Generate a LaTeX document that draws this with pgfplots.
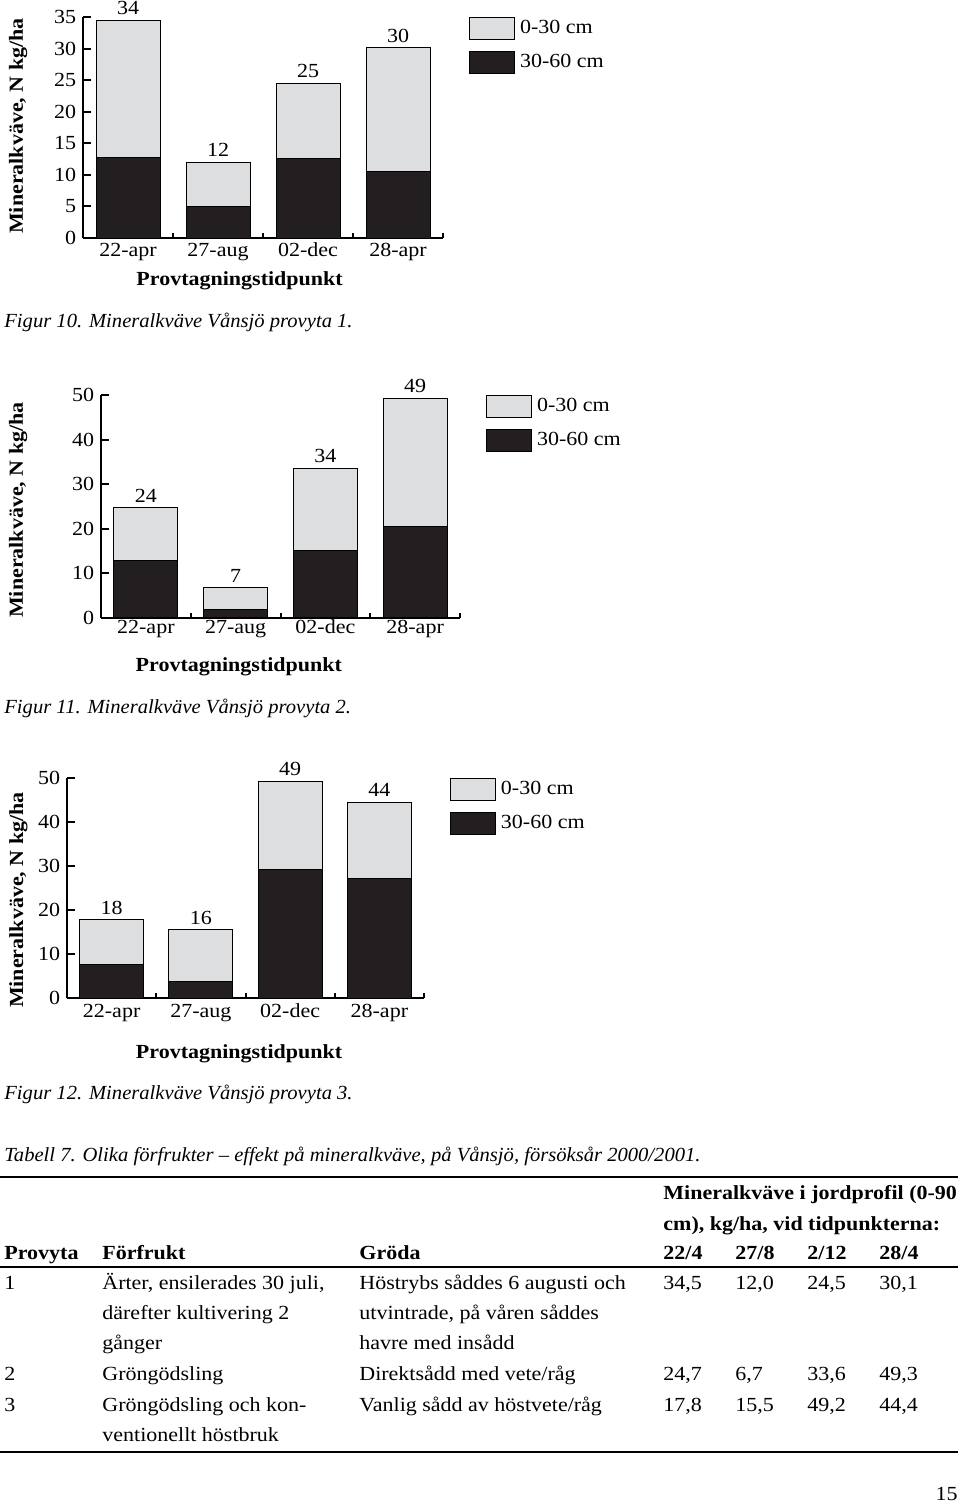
\documentclass[border=0pt]{standalone}
\usepackage{fontspec}
\setmainfont{Liberation Serif}[UprightFeatures={FakeStretch=1.1},BoldFeatures={FakeStretch=1.1},ItalicFeatures={FakeStretch=1.03}]
\usepackage{pgfplots}
\pgfplotsset{compat=1.18}
\usepackage{pgfplotstable}
\definecolor{barlight}{RGB}{221,222,223}
\definecolor{bardark}{RGB}{35,31,32}

\pgfplotstableread{
x low high tot lab
0 12.7 21.8 34.5 34
1 5.0 7.0 12.0 12
2 12.6 11.9 24.5 25
3 10.5 19.6 30.1 30
}\dataA
\pgfplotstableread{
x low high tot lab
0 12.8 11.9 24.7 24
1 1.95 4.75 6.7 7
2 15.0 18.6 33.6 34
3 20.4 28.9 49.3 49
}\dataB
\pgfplotstableread{
x low high tot lab
0 7.7 10.1 17.8 18
1 3.8 11.7 15.5 16
2 29.2 20.0 49.2 49
3 27.2 17.2 44.4 44
}\dataC

\pgfplotsset{
  mybars/.style={
    scale only axis, anchor=south west, clip=false,
    xmin=-0.5, xmax=3.5, ymin=0,
    axis x line*=bottom, axis y line*=left,
    axis line style={line width=1.1pt,-},
    ybar stacked, bar width=32pt,
    xtick={0,1,2,3}, xticklabels={22-apr,27-aug,02-dec,28-apr},
    major tick length=4pt,
    major tick style={draw=none},
    /pgf/number format/assume math mode=true,
    yticklabel style={anchor=east, inner sep=0pt, xshift=-3.25pt},
    xticklabel style={anchor=base, inner sep=0pt},
    reverse legend,
    legend cell align=left,
    legend style={draw=none, fill=none, inner sep=0pt, outer sep=0pt,
      at={(rel axis cs:1,1)}, anchor=north west, xshift=13pt,
      row sep=5.5pt, column sep=2.5pt, nodes={inner sep=0pt, outer sep=0pt}},
    ylabel={Mineralkväve, N kg/ha},
    xlabel={Provtagningstidpunkt},
    every axis label/.append style={font=\bfseries},
    after end axis/.append code={
      \foreach \t in {0.5,1.5,2.5,3.5} {\draw[line width=1pt] (axis cs:\t,0) -- ++(0pt,2.5pt);}
    },
  },
  yticks/.style={ytick={#1},
    after end axis/.append code={
      \foreach \v in {#1} {\draw[line width=1pt] (axis cs:-0.5,\v) -- ++(4pt,0pt);}
    }},
  labaxis/.style={
    scale only axis, anchor=south west, clip=false, hide axis,
    xmin=-0.5, xmax=3.5, ymin=0,
    every node near coord/.append style={anchor=base, inner sep=0pt, yshift=2.75pt, black},
  },
  lowbar/.style={fill=bardark, draw=black, line width=0.5pt,
    legend image code/.code={\draw[##1,/tikz/.cd] (0pt,-5.5pt) rectangle (22.5pt,5.5pt);}},
  highbar/.style={fill=barlight, draw=black, line width=0.5pt,
    legend image code/.code={\draw[##1,/tikz/.cd] (0pt,-5.5pt) rectangle (22.5pt,5.5pt);}},
  labplot/.style={draw=none, mark=none, nodes near coords, point meta=explicit symbolic},
}
\tikzset{tt/.style={anchor=base west, inner sep=0pt}}

\begin{document}
\begin{tikzpicture}
\path[use as bounding box] (0pt,0pt) rectangle (480pt,-754.5pt);

% Figure 10
\begin{axis}[mybars, at={(41.5pt,-119pt)}, width=180pt, height=110.5pt,
  ymax=35, yticks={0,5,...,35},
  ylabel style={at={(rel axis cs:-0.1667,0.507)}, anchor=base},
  xlabel style={at={(rel axis cs:0.435,0)}, anchor=base, yshift=-23.5pt},
  xticklabel style={yshift=-9.25pt}]
\addplot[lowbar] table[x=x,y=low]{\dataA}; \addlegendentry{30-60 cm}
\addplot[highbar] table[x=x,y=high]{\dataA}; \addlegendentry{0-30 cm}
\end{axis}
\begin{axis}[labaxis, at={(41.5pt,-119pt)}, width=180pt, height=110.5pt, ymax=35]
\addplot[labplot] table[x=x,y=tot,meta=lab]{\dataA};
\end{axis}

% Figure 11
\begin{axis}[mybars, at={(50.5pt,-308.85pt)}, width=179.5pt, height=111.35pt,
  ymax=50, yticks={0,10,...,50},
  ylabel style={at={(rel axis cs:-0.2173,0.484)}, anchor=base},
  xlabel style={at={(rel axis cs:0.384,0)}, anchor=base, yshift=-26.65pt},
  xticklabel style={yshift=-8.1pt}]
\addplot[lowbar] table[x=x,y=low]{\dataB}; \addlegendentry{30-60 cm}
\addplot[highbar] table[x=x,y=high]{\dataB}; \addlegendentry{0-30 cm}
\end{axis}
\begin{axis}[labaxis, at={(50.5pt,-308.85pt)}, width=179.5pt, height=111.35pt, ymax=50]
\addplot[labplot] table[x=x,y=tot,meta=lab]{\dataB};
\end{axis}

% Figure 12
\begin{axis}[mybars, at={(33.5pt,-499.15pt)}, width=178.5pt, height=110.35pt,
  ymax=50, yticks={0,10,...,50},
  ylabel style={at={(rel axis cs:-0.1232,0.445)}, anchor=base},
  xlabel style={at={(rel axis cs:0.482,0)}, anchor=base, yshift=-29.85pt},
  xticklabel style={yshift=-9.6pt}]
\addplot[lowbar] table[x=x,y=low]{\dataC}; \addlegendentry{30-60 cm}
\addplot[highbar] table[x=x,y=high]{\dataC}; \addlegendentry{0-30 cm}
\end{axis}
\begin{axis}[labaxis, at={(33.5pt,-499.15pt)}, width=178.5pt, height=110.35pt, ymax=50]
\addplot[labplot] table[x=x,y=tot,meta=lab]{\dataC};
\end{axis}

% captions
\node[tt] at (2pt,-163.5pt) {\itshape Figur 10. Mineralkväve Vånsjö provyta 1.};
\node[tt] at (2pt,-356.5pt) {\itshape Figur 11. Mineralkväve Vånsjö provyta 2.};
\node[tt] at (2pt,-549.5pt) {\itshape Figur 12. Mineralkväve Vånsjö provyta 3.};
\node[tt] at (2pt,-580.5pt) {\itshape Tabell 7. Olika förfrukter -- effekt på mineralkväve, på Vånsjö, försöksår 2000/2001.};

% table rules
\draw[line width=0.7pt] (0pt,-588.5pt) -- (479pt,-588.5pt);
\draw[line width=1.4pt] (0pt,-633.5pt) -- (479pt,-633.5pt);
\draw[line width=1.2pt] (0pt,-726pt) -- (479pt,-726pt);

% header
\node[tt] at (331.5pt,-599.5pt) {\bfseries Mineralkväve i jordprofil (0-90};
\node[tt] at (331.5pt,-615pt) {\bfseries cm), kg/ha, vid tidpunkterna:};
\node[tt] at (2pt,-629.5pt) {\bfseries Provyta};
\node[tt] at (51pt,-629.5pt) {\bfseries Förfrukt};
\node[tt] at (179.5pt,-629.5pt) {\bfseries Gröda};
\node[tt] at (331.5pt,-629.5pt) {\bfseries 22/4};
\node[tt] at (367.5pt,-629.5pt) {\bfseries 27/8};
\node[tt] at (403.5pt,-629.5pt) {\bfseries 2/12};
\node[tt] at (439.5pt,-629.5pt) {\bfseries 28/4};

% body
\node[tt] at (2pt,-644.5pt) {1};
\node[tt] at (51pt,-644.5pt) {Ärter, ensilerades 30 juli,};
\node[tt] at (179.5pt,-644.5pt) {Höstrybs såddes 6 augusti och};
\node[tt] at (331.5pt,-644.5pt) {34,5};
\node[tt] at (367.5pt,-644.5pt) {12,0};
\node[tt] at (403.5pt,-644.5pt) {24,5};
\node[tt] at (439.5pt,-644.5pt) {30,1};
\node[tt] at (51pt,-659.5pt) {därefter kultivering 2};
\node[tt] at (179.5pt,-659.5pt) {utvintrade, på våren såddes};
\node[tt] at (51pt,-674.75pt) {gånger};
\node[tt] at (179.5pt,-674.75pt) {havre med insådd};
\node[tt] at (2pt,-690pt) {2};
\node[tt] at (51pt,-690pt) {Gröngödsling};
\node[tt] at (179.5pt,-690pt) {Direktsådd med vete/råg};
\node[tt] at (331.5pt,-690pt) {24,7};
\node[tt] at (367.5pt,-690pt) {6,7};
\node[tt] at (403.5pt,-690pt) {33,6};
\node[tt] at (439.5pt,-690pt) {49,3};
\node[tt] at (2pt,-705.5pt) {3};
\node[tt] at (51pt,-705.5pt) {Gröngödsling och kon-};
\node[tt] at (179.5pt,-705.5pt) {Vanlig sådd av höstvete/råg};
\node[tt] at (331.5pt,-705.5pt) {17,8};
\node[tt] at (367.5pt,-705.5pt) {15,5};
\node[tt] at (403.5pt,-705.5pt) {49,2};
\node[tt] at (439.5pt,-705.5pt) {44,4};
\node[tt] at (51pt,-720.5pt) {ventionellt höstbruk};

\node[anchor=base east, inner sep=0pt] at (479pt,-750pt) {15};
\end{tikzpicture}
\end{document}
